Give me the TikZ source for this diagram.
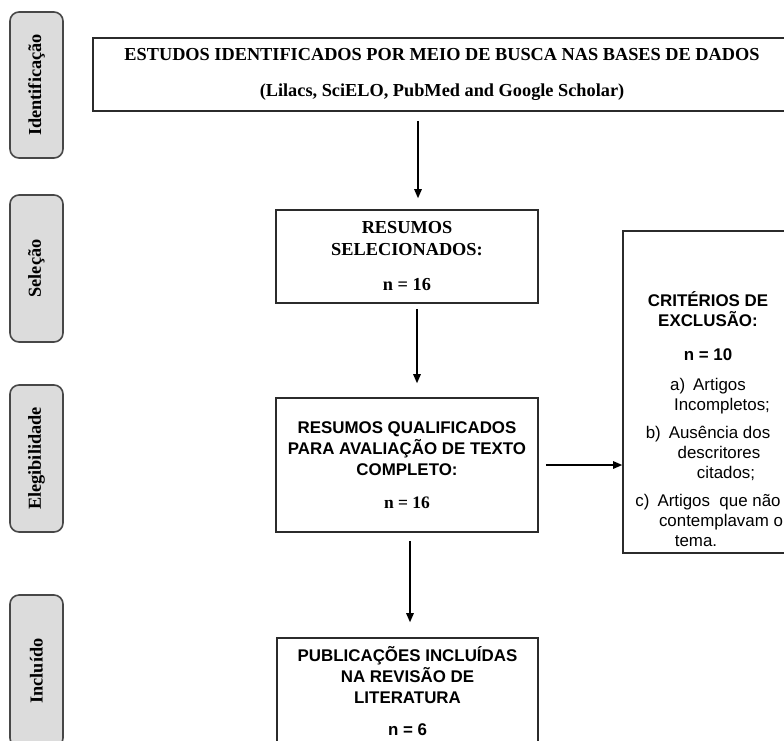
\documentclass[tikz,border=0pt]{standalone}
\usepackage{fontspec}
\setmainfont{Liberation Serif}
\newfontfamily\arialf{Liberation Sans}
\usetikzlibrary{arrows.meta}
\definecolor{boxline}{HTML}{2B2B2B}
\definecolor{phaseline}{HTML}{474747}
\definecolor{phasefill}{HTML}{DCDCDC}
\begin{document}
\begin{tikzpicture}[x=1pt,y=-1pt,
  phase/.style={draw=phaseline, fill=phasefill, line width=1.6pt, rounded corners=9pt,
    rotate=90, minimum height=53pt, inner sep=0pt,
    font=\fontsize{18.3}{20}\selectfont\bfseries},
  box/.style={draw=boxline, line width=1.6pt, inner sep=0pt, align=center},
  serifb/.style={font=\fontsize{18.3}{22}\selectfont\bfseries},
  sansb/.style={font=\arialf\fontsize{16.9}{21}\selectfont\bfseries},
  arr/.style={draw=black, line width=1.3pt, -{Triangle[length=9pt,width=7.5pt]}},
]
\useasboundingbox (0,0) rectangle (784,740);
\clip (0,0) rectangle (784,740);
\fill[white] (0,0) rectangle (784,740);

% phase labels
\node[phase, minimum width=146pt] (pid) at (36.5,85) {\raisebox{0pt}{Identificação}};
\node[phase, minimum width=147pt] (psel) at (36.5,268.5) {Seleção};
\node[phase, minimum width=147pt] (pele) at (36.5,458.5) {Elegibilidade};
\node[phase, minimum width=152pt] (pinc) at (36.5,671) {Incluído};

% main boxes
\node[box, serifb, minimum width=698pt, minimum height=73pt] (top) at (442,74.5)
  {ESTUDOS IDENTIFICADOS POR MEIO DE BUSCA NAS BASES DE DADOS\\[14pt]
   (Lilacs, SciELO, PubMed and Google Scholar)};

\node[box, serifb, minimum width=262pt, minimum height=93pt] (res) at (407,256.5)
  {RESUMOS\\SELECIONADOS:\\[13pt]n = 16};

\node[box, sansb, minimum width=262pt, minimum height=134pt] (qual) at (407,465)
  {RESUMOS QUALIFICADOS\\PARA AVALIAÇÃO DE TEXTO\\COMPLETO:\\[12pt]
   {\rmfamily\fontsize{17.5}{21}\selectfont\bfseries n = 16}};

\node[box, sansb, minimum width=261pt, minimum height=107pt] (pub) at (407.5,691.5)
  {PUBLICAÇÕES INCLUÍDAS\\NA REVISÃO DE\\LITERATURA\\[11pt]n = 6};

\node[box, minimum width=168pt, minimum height=322pt] (crit) at (707,392) {};
\node[align=center, inner sep=0pt, font=\arialf\fontsize{16.9}{20}\selectfont] (critt) at (708,419)
  {\textbf{CRITÉRIOS DE}\\ \textbf{EXCLUSÃO:}\\[14pt]
   \textbf{n = 10}\\[10pt]
   a)\hspace{8pt}Artigos\\
   \hspace*{28pt}Incompletos;\\[8pt]
   b)\hspace{8pt}Ausência dos\\
   \hspace*{22pt}descritores\\
   \hspace*{36pt}citados;\\[8pt]
   c)\hspace{8pt}Artigos\ \ que não\\
   \hspace*{26pt}contemplavam o\\
   tema.\hspace*{24pt}};

% connectors
\coordinate (x1) at (418,0);
\coordinate (x2) at (417,0);
\coordinate (x3) at (410,0);
\draw[arr, shorten <=9pt, shorten >=11pt] (top.south -| x1) -- (res.north -| x1);
\draw[arr, shorten <=5pt, shorten >=14pt] (res.south -| x2) -- (qual.north -| x2);
\draw[arr, shorten <=8pt, shorten >=15pt] (qual.south -| x3) -- (pub.north -| x3);
\draw[arr, shorten <=7pt] (qual.east) -- (crit.west |- qual.east);
\end{tikzpicture}
\end{document}
